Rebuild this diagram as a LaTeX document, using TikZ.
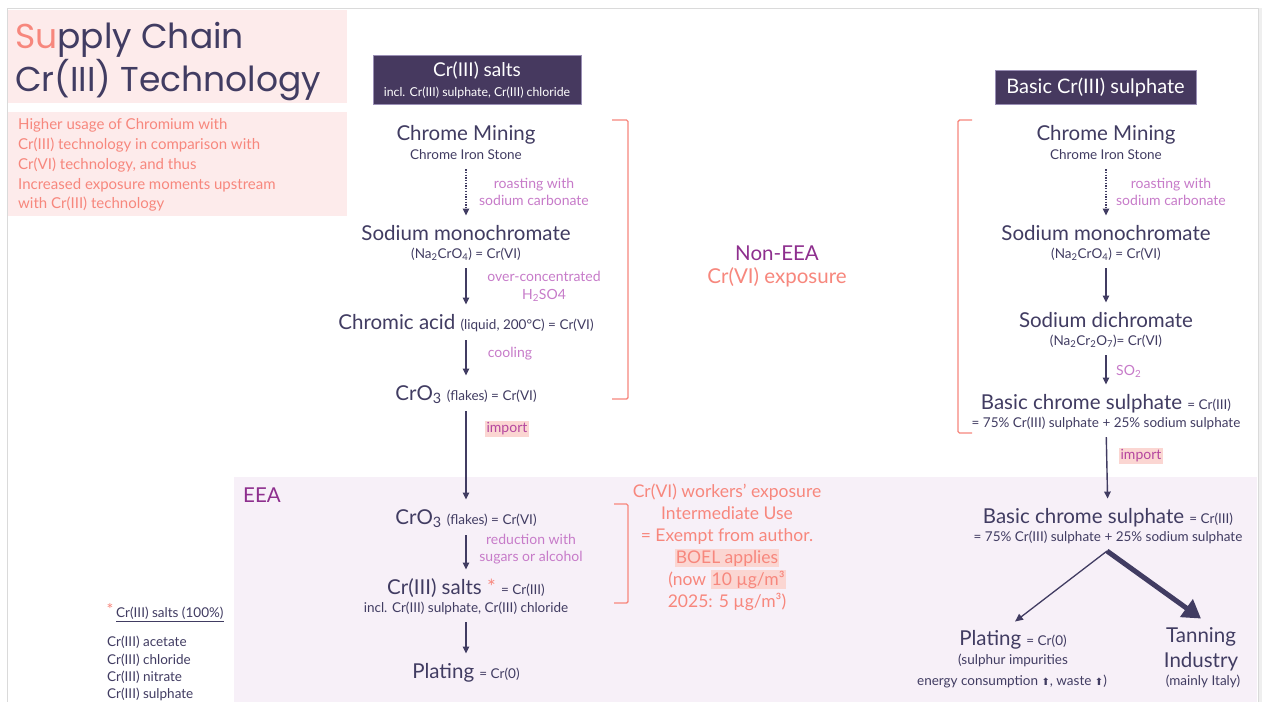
\documentclass[tikz,border=0pt]{standalone}
\usepackage{fontspec}
\setmainfont{Lato}
\newfontfamily\ttl{Poppins}
\newfontfamily\djv{DejaVu Sans}
\usetikzlibrary{arrows.meta,calc}
\definecolor{dk}{HTML}{413C62}
\definecolor{hdrfill}{HTML}{46395F}
\definecolor{hdrline}{HTML}{9A8FB5}
\definecolor{labc}{HTML}{C77BC9}
\definecolor{salmon}{HTML}{F7877D}
\definecolor{nonp}{HTML}{8E2F8E}
\definecolor{eeabg}{HTML}{F7F0F8}
\definecolor{titlebg}{HTML}{FDEBEB}
\definecolor{hlbg}{HTML}{FBD6D2}
\definecolor{impc}{HTML}{B5479F}
\definecolor{framec}{HTML}{DADADA}
\definecolor{edgec}{HTML}{EFEFEF}
\newcommand\smf{\fontsize{13.5}{15}\selectfont}
\newcommand\hlbox[1]{{\setlength{\fboxsep}{1pt}\colorbox{hlbg}{#1}}}
\newcommand\uparr{{\djv\fontsize{10}{12}\selectfont ⬆}}
\begin{document}
\begin{tikzpicture}[x=1pt,y=-1pt,
  big/.style={font=\fontsize{20.5}{23}\selectfont,text=dk,inner sep=0pt,text height=14.5pt,text depth=4pt,yshift=-3pt},
  sm/.style={font=\smf,text=dk,inner sep=0pt,text height=9.5pt,text depth=2.5pt,yshift=-2pt},
  lab/.style={font=\fontsize{14}{17.5}\selectfont,text=labc,inner sep=0pt,align=center,yshift=-1.5pt},
  hlt/.style={font=\fontsize{14}{15}\selectfont,text=impc,fill=hlbg,inner sep=2pt,text height=9.5pt,text depth=2.5pt,yshift=-1pt},
  hdr/.style={fill=hdrfill,draw=hdrline,line width=0.6pt},
  hdrt/.style={text=white,inner sep=0pt},
  arr/.style={draw=dk,line width=1.4pt,-{Triangle[length=7pt,width=6.5pt]},shorten <=7pt,shorten >=10pt},
  dotarr/.style={arr,line width=1.3pt,dash pattern=on 1.3pt off 1.4pt},
  thinarr/.style={draw=dk,line width=1.3pt,-{Triangle[length=8pt,width=7pt]}},
  thickarr/.style={draw=dk,line width=5pt,-{Triangle[length=18pt,width=21pt]}},
  brk/.style={draw=salmon,line width=1.4pt,rounded corners=1.5pt},
  desc/.style={font=\fontsize{15}{17}\selectfont,text=salmon,inner sep=0pt,anchor=west},
  ttlst/.style={font=\ttl\fontsize{34.5}{36}\selectfont,text=dk,inner sep=0pt,anchor=base west},
  bigtxt/.style={font=\fontsize{20.5}{23}\selectfont,inner sep=0pt}
]
\useasboundingbox (0,0) rectangle (1262,702);
% page frame
\fill[white] (0,0) rectangle (1262,702);
\fill[edgec] (1258,8) rectangle (1262,702);
\draw[framec,line width=0.9pt] (7,702) -- (7,8) -- (1258,8) -- (1258,702);
% EEA region
\fill[eeabg] (234,477) rectangle (1257,702);
% title boxes
\fill[titlebg] (8,10) rectangle (347,103);
\fill[titlebg] (8,112) rectangle (347,216);
\node[ttlst] (t1) at (15,48) {\textcolor{salmon}{Su}pply Chain};
\node[ttlst] (t2) at (15,91) {Cr(III) Technology};
\node[desc] (d1) at (18,125) {Higher usage of Chromium with};
\node[desc] (d2) at (18,145) {Cr(III) technology in comparison with};
\node[desc] (d3) at (18,165) {Cr(VI) technology, and thus};
\node[desc] (d4) at (18,185) {Increased exposure moments upstream};
\node[desc] (d5) at (18,204) {with Cr(III) technology};

% ---------- left column ----------
\node[hdr,minimum width=208pt,minimum height=49pt,inner sep=0pt] (hl) at (477,79.5) {};
\node[hdrt,font=\fontsize{19}{20}\selectfont] (hl1) at (477,71) {Cr(III) salts};
\node[hdrt,font=\fontsize{12.3}{13}\selectfont] (hl2) at (477,93) {incl. Cr(III) sulphate, Cr(III) chloride};

\node[big] (cmL) at (466,132) {Chrome Mining};
\node[sm] (cisL) at (466,154) {Chrome Iron Stone};
\node[lab] (l1) at (534,190.5) {roasting with\\sodium carbonate};
\node[big] (smL) at (466,232) {Sodium monochromate};
\node[sm] (naL) at (466,253) {(Na\textsubscript{2}CrO\textsubscript{4}) = Cr(VI)};
\node[lab] (l2) at (544,285) {over-concentrated\\H\textsubscript{2}SO4};
\node[big] (caL) at (466,321) {Chromic acid {\smf (liquid, 200°C) = Cr(VI)}};
\node[lab] (l3) at (510,352) {cooling};
\node[big] (crL) at (466,392) {CrO\textsubscript{3} {\smf (flakes) = Cr(VI)}};
\node[hlt] (imL) at (507,428) {import};
\node[big] (crE) at (466,516) {CrO\textsubscript{3} {\smf (flakes) = Cr(VI)}};
\node[lab] (l4) at (531,547.5) {reduction with\\sugars or alcohol};
\node[big] (saE) at (466,586) {Cr(III) salts \textcolor{salmon}{*} {\smf = Cr(III)}};
\node[sm] (inE) at (466,607) {incl. Cr(III) sulphate, Cr(III) chloride};
\node[big] (plE) at (466,670) {Plating {\smf = Cr(0)}};

\draw[dotarr] (cisL) -- (smL);
\draw[arr] (naL) -- (caL);
\draw[arr] (caL) -- (crL);
\draw[arr] (crL) -- (crE);
\draw[arr] (crE) -- (saE);
\draw[arr] (inE) -- (plE);

\draw[brk] (612,120) -- (628,120) -- (628,399) -- (612,399);
\node[bigtxt,text=nonp] (ne1) at (777,253) {Non-EEA};
\node[bigtxt,text=salmon] (ne2) at (777,277) {Cr(VI) exposure};

\node[bigtxt,text=nonp] (eea) at (262,495) {EEA};

\draw[brk] (614,504) -- (628,504) -- (628,603) -- (614,603);
\node[align=center,text=salmon,font=\fontsize{17.5}{22}\selectfont,inner sep=0pt] (rb) at (727,547)
  {Cr(VI) workers’ exposure\\Intermediate Use\\= Exempt from author.\\\hlbox{BOEL applies}\\(now \hlbox{10 µg/m³}\\2025: 5 µg/m³)};

% footnote
\node[text=salmon,font=\fontsize{16}{16}\selectfont,inner sep=0pt] (ast) at (110,609) {*};
\node[sm,anchor=west] (fn) at (116,612) {Cr(III) salts (100\%)};
\draw[dk,line width=0.8pt] ([yshift=-1pt]fn.south west) -- ([yshift=-1pt]fn.south east);
\node[sm,anchor=west] (f1) at (107,641) {Cr(III) acetate};
\node[sm,anchor=west] (f2) at (107,659) {Cr(III) chloride};
\node[sm,anchor=west] (f3) at (107,676) {Cr(III) nitrate};
\node[sm,anchor=west] (f4) at (107,693) {Cr(III) sulphate};

% ---------- right column ----------
\node[hdr,minimum width=201pt,minimum height=34pt,inner sep=0pt] (hr) at (1095.5,87) {};
\node[hdrt,font=\fontsize{20}{22}\selectfont] (hr1) at (1095.5,87) {Basic Cr(III) sulphate};

\draw[brk] (972,120) -- (958,120) -- (958,433) -- (972,433);
\node[big] (cmR) at (1106,132) {Chrome Mining};
\node[sm] (cisR) at (1106,154) {Chrome Iron Stone};
\node[lab] (r1) at (1171,190.5) {roasting with\\sodium carbonate};
\node[big] (smR) at (1106,232) {Sodium monochromate};
\node[sm] (naR) at (1106,253) {(Na\textsubscript{2}CrO\textsubscript{4}) = Cr(VI)};
\node[big] (sdR) at (1106,319) {Sodium dichromate};
\node[sm] (nadR) at (1106,340) {(Na\textsubscript{2}Cr\textsubscript{2}O\textsubscript{7})= Cr(VI)};
\node[lab,anchor=west] (r2) at (1116,370) {SO\textsubscript{2}};
\node[big] (bcR) at (1106,401) {Basic chrome sulphate {\smf = Cr(III)}};
\node[sm] (bc2R) at (1106,422) {= 75\% Cr(III) sulphate + 25\% sodium sulphate};
\node[hlt] (imR) at (1141,455) {import};
\node[big] (bcE) at (1108,515) {Basic chrome sulphate {\smf = Cr(III)}};
\node[sm] (bc2E) at (1108,536) {= 75\% Cr(III) sulphate + 25\% sodium sulphate};
\coordinate (fork) at (1107,551);
\node[big] (plR) at (1013,637) {Plating {\smf = Cr(0)}};
\node[sm] (pl2R) at (1013,659) {(sulphur impurities};
\node[sm] (pl3R) at (1012,680) {energy consumption \uparr, waste \uparr)};
\node[big] (tR1) at (1201,634) {Tanning};
\node[big] (tR2) at (1201,659) {Industry};
\node[sm] (tR3) at (1203,680) {(mainly Italy)};

\draw[dotarr] (cisR) -- (smR);
\draw[arr] (naR) -- (sdR);
\draw[arr] (nadR) -- (bcR);
\draw[arr] (bc2R) -- (bcE);
\draw[thinarr] (fork) -- ([xshift=2pt,yshift=9pt]plR.north);
\draw[thickarr] (fork) -- ([yshift=9pt]tR1.north);
\end{tikzpicture}
\end{document}
